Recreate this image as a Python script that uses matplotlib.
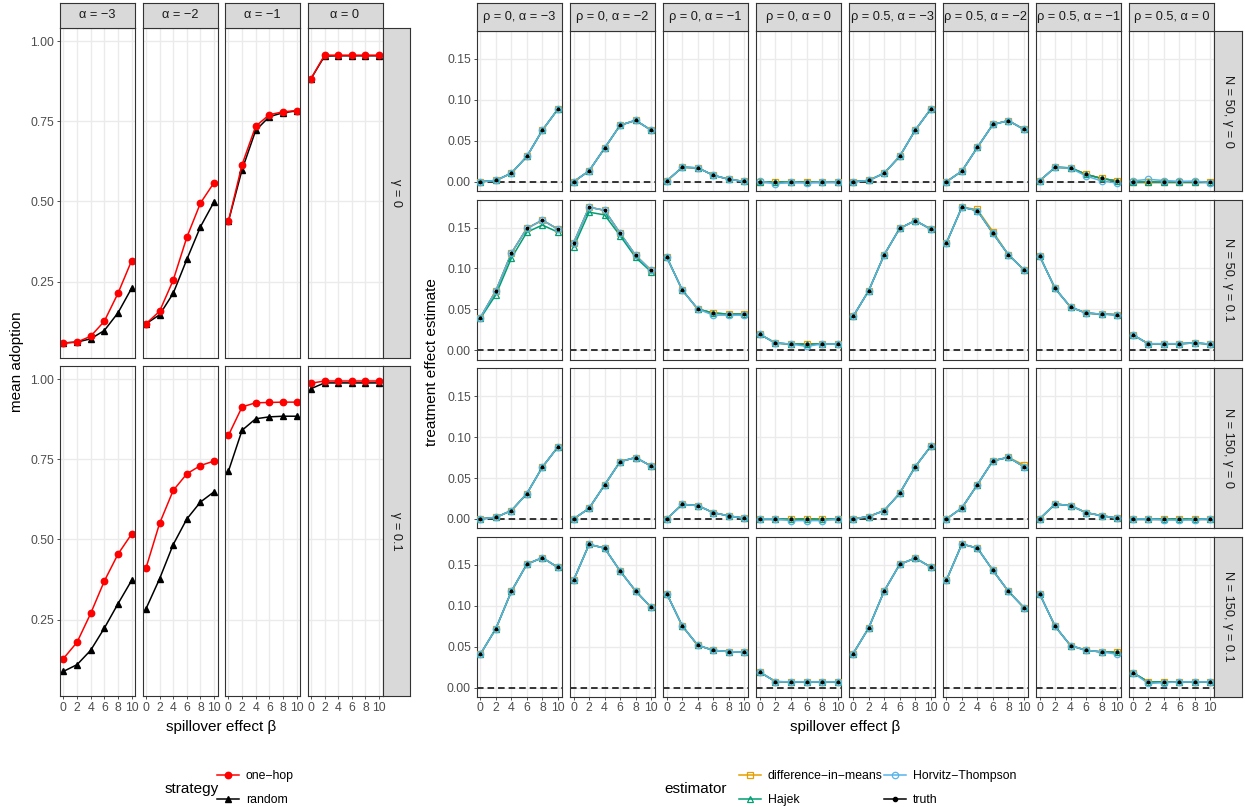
import numpy as np
import matplotlib
matplotlib.use("Agg")
import matplotlib.pyplot as plt
from matplotlib.lines import Line2D

plt.rcParams['font.family'] = ['Liberation Sans', 'DejaVu Sans']

W, H = 1245, 807

# ---- data: left chart (mean adoption) ----
beta = [0, 2, 4, 6, 8, 10]
alphas = ['−3', '−2', '−1', '0']
gammas = ['0', '0.1']

onehop_g0 = [[0.058, 0.061, 0.079, 0.126, 0.213, 0.315],
             [0.118, 0.157, 0.254, 0.388, 0.495, 0.559],
             [0.438, 0.615, 0.735, 0.771, 0.780, 0.784],
             [0.883, 0.957, 0.957, 0.957, 0.957, 0.957]]
random_g0 = [[0.058, 0.061, 0.071, 0.097, 0.152, 0.229],
             [0.118, 0.146, 0.213, 0.319, 0.421, 0.499],
             [0.438, 0.599, 0.722, 0.765, 0.777, 0.783],
             [0.883, 0.954, 0.955, 0.955, 0.955, 0.955]]
onehop_g01 = [[0.128, 0.179, 0.269, 0.370, 0.454, 0.517],
              [0.410, 0.550, 0.653, 0.705, 0.731, 0.745],
              [0.825, 0.914, 0.927, 0.928, 0.929, 0.929],
              [0.988, 0.995, 0.995, 0.995, 0.995, 0.995]]
random_g01 = [[0.088, 0.109, 0.154, 0.223, 0.299, 0.372],
              [0.283, 0.377, 0.484, 0.564, 0.617, 0.649],
              [0.713, 0.841, 0.877, 0.883, 0.885, 0.885],
              [0.971, 0.989, 0.989, 0.989, 0.989, 0.989]]

# ---- data: right chart (treatment effect estimates) ----
col_labels = ['ρ = 0, α = −3', 'ρ = 0, α = −2', 'ρ = 0, α = −1', 'ρ = 0, α = 0',
              'ρ = 0.5, α = −3', 'ρ = 0.5, α = −2', 'ρ = 0.5, α = −1', 'ρ = 0.5, α = 0']
row_labels = ['N = 50, γ = 0', 'N = 50, γ = 0.1', 'N = 150, γ = 0', 'N = 150, γ = 0.1']

truth_n50_g0 = [[0.000, 0.0016, 0.0105, 0.031, 0.063, 0.0887],
                [0.000, 0.0133, 0.041, 0.069, 0.075, 0.063],
                [0.001, 0.0177, 0.017, 0.008, 0.003, 0.0004],
                [0.000, 0.000, 0.000, 0.000, 0.000, 0.000],
                [0.000, 0.0016, 0.0105, 0.031, 0.063, 0.0887],
                [0.000, 0.013, 0.042, 0.070, 0.0746, 0.064],
                [0.001, 0.0177, 0.017, 0.009, 0.004, 0.001],
                [0.000, 0.000, 0.000, 0.000, 0.000, 0.000]]
truth_n50_g01 = [[0.040, 0.0728, 0.1187, 0.149, 0.159, 0.148],
                 [0.131, 0.1748, 0.171, 0.143, 0.116, 0.0976],
                 [0.1138, 0.0736, 0.0504, 0.0455, 0.0443, 0.0443],
                 [0.0195, 0.0089, 0.0077, 0.0077, 0.0077, 0.0077],
                 [0.0415, 0.0728, 0.1167, 0.149, 0.1585, 0.148],
                 [0.131, 0.1748, 0.1707, 0.143, 0.1167, 0.0984],
                 [0.1154, 0.0756, 0.0528, 0.0455, 0.0443, 0.0435],
                 [0.019, 0.0081, 0.0081, 0.0081, 0.009, 0.0077]]
truth_n150_g0 = [[0.000, 0.002, 0.0102, 0.031, 0.0634, 0.088],
                 [0.000, 0.013, 0.0415, 0.070, 0.075, 0.0646],
                 [0.000, 0.0179, 0.0163, 0.0077, 0.0037, 0.001],
                 [0.000, 0.000, 0.000, 0.000, 0.000, 0.000],
                 [0.000, 0.003, 0.0102, 0.0313, 0.0638, 0.0886],
                 [0.000, 0.0134, 0.0419, 0.0711, 0.0752, 0.0638],
                 [0.000, 0.0183, 0.0163, 0.0077, 0.004, 0.001],
                 [0.000, 0.000, 0.000, 0.000, 0.000, 0.000]]
truth_n150_g01 = [[0.0407, 0.072, 0.1175, 0.1508, 0.1585, 0.1467],
                  [0.131, 0.1748, 0.1703, 0.1423, 0.1179, 0.098],
                  [0.1146, 0.0752, 0.0516, 0.0455, 0.0439, 0.0431],
                  [0.0187, 0.0073, 0.0069, 0.0069, 0.0069, 0.0069],
                  [0.0415, 0.0728, 0.1179, 0.1504, 0.1581, 0.1472],
                  [0.131, 0.1752, 0.1703, 0.1431, 0.1175, 0.0976],
                  [0.1146, 0.0748, 0.0512, 0.0455, 0.0435, 0.0431],
                  [0.0183, 0.0069, 0.0069, 0.0069, 0.0069, 0.0069]]
truth_rows = [truth_n50_g0, truth_n50_g01, truth_n150_g0, truth_n150_g01]

# estimators sit on top of the truth except in these (row, col) panels
hajek_diff = {(1, 0): [0.039, 0.068, 0.1126, 0.1443, 0.153, 0.1443],
              (1, 1): [0.126, 0.1687, 0.1654, 0.140, 0.1134, 0.096]}
ht_diff = {(0, 3): [0.0005, -0.0024, -0.0008, -0.0012, -0.0006, -0.0006],
           (0, 6): [0.001, 0.0177, 0.0165, 0.007, 0.001, -0.0015],
           (0, 7): [0.001, 0.003, 0.0015, 0.0005, 0.0008, -0.001],
           (1, 2): [0.1138, 0.0736, 0.0504, 0.043, 0.043, 0.043],
           (1, 3): [0.0195, 0.0089, 0.0077, 0.0049, 0.0077, 0.0077],
           (2, 3): [0.000, 0.000, -0.002, -0.002, -0.002, 0.000],
           (2, 7): [0.000, 0.000, -0.001, -0.0015, -0.001, 0.0005],
           (3, 6): [0.1146, 0.0748, 0.0512, 0.0455, 0.0435, 0.0407],
           (3, 7): [0.0183, 0.005, 0.006, 0.0069, 0.0069, 0.0069]}
dim_diff = {(1, 5): [0.131, 0.1748, 0.172, 0.145, 0.1167, 0.0984],
            (2, 5): [0.000, 0.0134, 0.0419, 0.0711, 0.0752, 0.066]}

est_names = ['difference−in−means', 'Hajek', 'Horvitz−Thompson', 'truth']
est_colors = ['#E69F00', '#009E73', '#56B4E9', 'black']
est_markers = ['s', '^', 'o', 'o']

BORDER = '#333333'
GRID = '#EBEBEB'
TICK_FS = 8.8
TITLE_FS = 11
STRIP_FS = 9.2


def px_axes(fig, x, y, w, h):
    return fig.add_axes([x / W, 1 - (y + h) / H, w / W, h / H])


def style_panel(ax, ylim, yticks, ylabels, show_x, show_y):
    ax.set_xlim(-0.5, 10.5)
    ax.set_ylim(*ylim)
    ax.set_xticks(beta)
    ax.set_yticks(yticks)
    ax.grid(True, color=GRID, lw=1.0)
    ax.set_axisbelow(True)
    for s in ax.spines.values():
        s.set_color(BORDER)
        s.set_linewidth(0.8)
    ax.tick_params(length=2.5, width=0.6, color=BORDER, labelsize=TICK_FS,
                   labelcolor='#4D4D4D', pad=1.5)
    if show_x:
        ax.set_xticklabels([str(b) for b in beta])
    else:
        ax.tick_params(axis='x', length=0, labelbottom=False)
    if show_y:
        ax.set_yticklabels(ylabels)
    else:
        ax.tick_params(axis='y', length=0, labelleft=False)


def strip(fig, x, y, w, h, text, rotate=False):
    ax = px_axes(fig, x, y, w, h)
    ax.set_facecolor('#D9D9D9')
    ax.set_xticks([])
    ax.set_yticks([])
    for s in ax.spines.values():
        s.set_color(BORDER)
        s.set_linewidth(0.8)
    ax.text(0.5, 0.5, text, rotation=-90 if rotate else 0, ha='center',
            va='center', fontsize=STRIP_FS, color='#1A1A1A', transform=ax.transAxes)


def padded(vals):
    lo, hi = np.min(vals), np.max(vals)
    d = (hi - lo) * 0.05
    return lo - d, hi + d


fig = plt.figure(figsize=(W / 100, H / 100), dpi=100)

# ================= left chart =================
left_x0, left_step, left_w = 60, 82.5, 75
left_rows = [(28, 330), (366, 330)]
ylim_l = padded(onehop_g0 + random_g0 + onehop_g01 + random_g01)
onehop = [onehop_g0, onehop_g01]
random_ = [random_g0, random_g01]

for r, (ty, th) in enumerate(left_rows):
    for c in range(4):
        ax = px_axes(fig, left_x0 + c * left_step, ty, left_w, th)
        style_panel(ax, ylim_l, [0.25, 0.5, 0.75, 1.0],
                    ['0.25', '0.50', '0.75', '1.00'], r == 1, c == 0)
        ax.plot(beta, random_[r][c], color='black', lw=1.1, marker='^', ms=5)
        ax.plot(beta, onehop[r][c], color='red', lw=1.1, marker='o', ms=4.6)
    strip(fig, left_x0 + 3 * left_step + left_w, ty, 27, th,
          'γ = ' + gammas[r], rotate=True)

for c in range(4):
    strip(fig, left_x0 + c * left_step, 3, left_w, 25, 'α = ' + alphas[c])

fig.text(17 / W, 1 - 362 / H, 'mean adoption', rotation=90, ha='center',
         va='center', fontsize=TITLE_FS)
fig.text(221 / W, 1 - 727 / H, 'spillover effect β', ha='center',
         va='center', fontsize=TITLE_FS)

# ================= right chart =================
right_x0, right_step, right_w = 476.5, 93.2, 85.3
right_y0, right_rstep, right_h = 31, 168.6, 160

all_vals = [v for rows in truth_rows for p in rows for v in p]
for d in (hajek_diff, ht_diff, dim_diff):
    for p in d.values():
        all_vals += p
ylim_r = padded(all_vals)

for r in range(4):
    ty = right_y0 + r * right_rstep
    for c in range(8):
        ax = px_axes(fig, right_x0 + c * right_step, ty, right_w, right_h)
        style_panel(ax, ylim_r, [0.0, 0.05, 0.10, 0.15],
                    ['0.00', '0.05', '0.10', '0.15'], r == 3, c == 0)
        ax.axhline(0, color='black', lw=1.1, ls=(0, (4.3, 2.6)), zorder=1.5)
        truth = truth_rows[r][c]
        series = [dim_diff.get((r, c), truth), hajek_diff.get((r, c), truth),
                  ht_diff.get((r, c), truth), truth]
        ax.plot(beta, truth, color='black', lw=1.0, zorder=2)
        for k in range(3):
            ax.plot(beta, series[k], color=est_colors[k], lw=1.1, zorder=2)
        for k in range(3):
            ax.plot(beta, series[k], ls='none', marker=est_markers[k], ms=4.6,
                    mfc='none', mec=est_colors[k], mew=0.9, zorder=3)
        ax.plot(beta, truth, ls='none', marker='o', ms=1.8, color='black', zorder=4)
    strip(fig, right_x0 + 7 * right_step + right_w, ty, 28, right_h,
          row_labels[r], rotate=True)

for c in range(8):
    strip(fig, right_x0 + c * right_step, 3, right_w, 28, col_labels[c])

fig.text(432 / W, 1 - 362 / H, 'treatment effect estimate', rotation=90,
         ha='center', va='center', fontsize=TITLE_FS)
fig.text(845 / W, 1 - 727 / H, 'spillover effect β', ha='center',
         va='center', fontsize=TITLE_FS)

# ================= legends =================
fig.text(165 / W, 1 - 789 / H, 'strategy', ha='left', va='center', fontsize=TITLE_FS)
h_left = [Line2D([], [], color='red', lw=1.1, marker='o', ms=4.6),
          Line2D([], [], color='black', lw=1.1, marker='^', ms=5)]
fig.legend(h_left, ['one−hop', 'random'], loc='center left',
           bbox_to_anchor=(217 / W, 1 - 788 / H), frameon=False, fontsize=TICK_FS,
           handlelength=1.8, handletextpad=0.55, labelspacing=0.95,
           borderaxespad=0, borderpad=0)

fig.text(664 / W, 1 - 789 / H, 'estimator', ha='left', va='center', fontsize=TITLE_FS)
h_right = []
for k in range(4):
    if k < 3:
        h_right.append(Line2D([], [], color=est_colors[k], lw=1.1,
                              marker=est_markers[k], ms=4.6, mfc='none',
                              mec=est_colors[k], mew=0.9))
    else:
        h_right.append(Line2D([], [], color='black', lw=1.1, marker='o', ms=3))
fig.legend(h_right, est_names, loc='center left', ncol=2,
           bbox_to_anchor=(739 / W, 1 - 788 / H), frameon=False, fontsize=TICK_FS,
           handlelength=1.8, handletextpad=0.55, labelspacing=0.95,
           columnspacing=0.1, borderaxespad=0, borderpad=0)

fig.savefig('out.png', dpi=100)
